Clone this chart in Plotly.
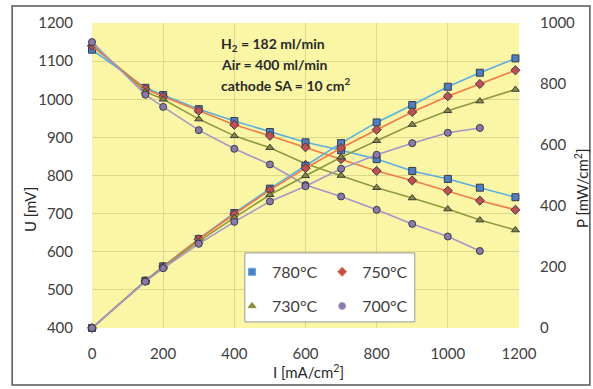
import plotly.graph_objects as go

# Current density [mA/cm²]
current = [0, 150, 200, 300, 400, 500, 600, 700, 800, 900, 1000, 1090, 1190]

# Cell voltage [mV] per furnace temperature
u_780 = [1130, 1030, 1011, 974, 943, 914, 887, 866, 843, 812, 791, 768, 743]
u_750 = [1140, 1027, 1007, 970, 933, 904, 874, 843, 812, 787, 760, 734, 710]
u_730 = [1145, 1020, 1000, 948, 904, 873, 831, 800, 768, 741, 712, 683, 657]
u_700 = [1150, 1012, 980, 919, 870, 829, 775, 745, 710, 673, 640, 602]

# Power density [mW/cm²] per furnace temperature
p_780 = [0, 155, 202, 292, 377, 457, 532, 606, 674, 731, 791, 837, 884]
p_750 = [0, 154, 201, 291, 373, 452, 524, 590, 650, 708, 760, 800, 845]
p_730 = [0, 153, 200, 284, 362, 437, 499, 560, 614, 667, 712, 744, 782]
p_700 = [0, 152, 196, 276, 348, 415, 465, 522, 568, 606, 640, 656]

series = [
    ("780°C", u_780, p_780, "#5aaee0", "#4f7fc0", "square", "legend"),
    ("750°C", u_750, p_750, "#f27a45", "#c0504d", "diamond", "legend2"),
    ("730°C", u_730, p_730, "#8f9a3e", "#8a8a3a", "triangle-up", "legend3"),
    ("700°C", u_700, p_700, "#a895c8", "#8a7aaa", "circle", "legend4"),
]

FONT = "Lato, 'Open Sans', sans-serif"

fig = go.Figure()
for name, u, p, line_c, mark_c, sym, leg in series:
    n = len(u)
    marker = dict(symbol=sym, size=7, color=mark_c, line=dict(color="#3a3a4a", width=1))
    fig.add_trace(go.Scatter(
        x=current[:n], y=u, name=name, mode="lines+markers",
        line=dict(color=line_c, width=1.6), marker=marker,
        cliponaxis=False, showlegend=False,
    ))
    fig.add_trace(go.Scatter(
        x=current[:n], y=p, name=name, mode="lines+markers",
        line=dict(color=line_c, width=1.6), marker=marker,
        cliponaxis=False, yaxis="y2", showlegend=False,
    ))
    # legend entry (marker only, compact)
    fig.add_trace(go.Scatter(
        x=[None], y=[None], name=name, mode="markers",
        marker=dict(symbol=sym, size=7, color=mark_c, line=dict(color=line_c, width=1)),
        legend=leg, showlegend=True,
    ))

tick_font = dict(family=FONT, size=15, color="#404040")
title_font = dict(family=FONT, size=15, color="#2a2a2a")
grid_c = "#dcd88e"

def leg(x, y):
    return dict(x=x, y=y, xanchor="left", yanchor="middle", bgcolor="rgba(0,0,0,0)",
                borderwidth=0, font=dict(family=FONT, size=16, color="#404040"),
                itemwidth=30)

fig.update_layout(
    width=593, height=389,
    margin=dict(l=92, r=74, t=23, b=61),
    paper_bgcolor="white",
    plot_bgcolor="#faf6a6",
    xaxis=dict(range=[0, 1200], dtick=200, showgrid=True, gridcolor=grid_c, gridwidth=1,
               zeroline=False, showline=False, ticks="", tickfont=tick_font,
               ticklabelstandoff=15),
    yaxis=dict(range=[400, 1200], dtick=100, showgrid=True, gridcolor=grid_c, gridwidth=1,
               zeroline=False, showline=False, ticks="", tickfont=tick_font,
               ticklabelstandoff=18),
    yaxis2=dict(range=[0, 1000], dtick=200, overlaying="y", side="right", showgrid=False,
                zeroline=False, showline=False, ticks="", tickfont=tick_font,
                ticklabelstandoff=20),
    legend=leg(0.328, 0.184),
    legend2=leg(0.539, 0.184),
    legend3=leg(0.328, 0.072),
    legend4=leg(0.539, 0.072),
    showlegend=True,
)

# legend frame
fig.add_shape(type="rect", xref="paper", yref="paper", x0=0.358, x1=0.756, y0=0.02, y1=0.246,
              fillcolor="white", line=dict(color="#9a9a9a", width=1), layer="above")
# outer chart frame
fig.add_shape(type="rect", xref="paper", yref="paper", x0=-0.187, x1=1.166, y0=-0.187, y1=1.056,
              fillcolor="rgba(0,0,0,0)", line=dict(color="#555555", width=1.5))

# axis titles
fig.add_annotation(xref="paper", yref="paper", x=0.508, y=-0.142, showarrow=False,
                   text="I [mA/cm<sup>2</sup>]", font=title_font,
                   xanchor="center", yanchor="middle")
fig.add_annotation(xref="paper", yref="paper", x=-0.145, y=0.387, showarrow=False,
                   text="U [mV]", font=title_font, textangle=-90,
                   xanchor="center", yanchor="middle")
fig.add_annotation(xref="paper", yref="paper", x=1.145, y=0.459, showarrow=False,
                   text="P [mW/cm<sup>2</sup>]", font=title_font, textangle=-90,
                   xanchor="center", yanchor="middle")

notes = ["H<sub>2</sub> = 182 ml/min", "Air = 400 ml/min", "cathode SA = 10 cm<sup>2</sup>"]
for i, t in enumerate(notes):
    fig.add_annotation(xref="paper", yref="paper", x=0.297, y=0.93 - i * 0.066,
                       xanchor="left", yanchor="middle", showarrow=False, text="<b>" + t + "</b>",
                       font=dict(family=FONT, size=14, color="#2a2a2a"))

fig.write_html("out.html")
